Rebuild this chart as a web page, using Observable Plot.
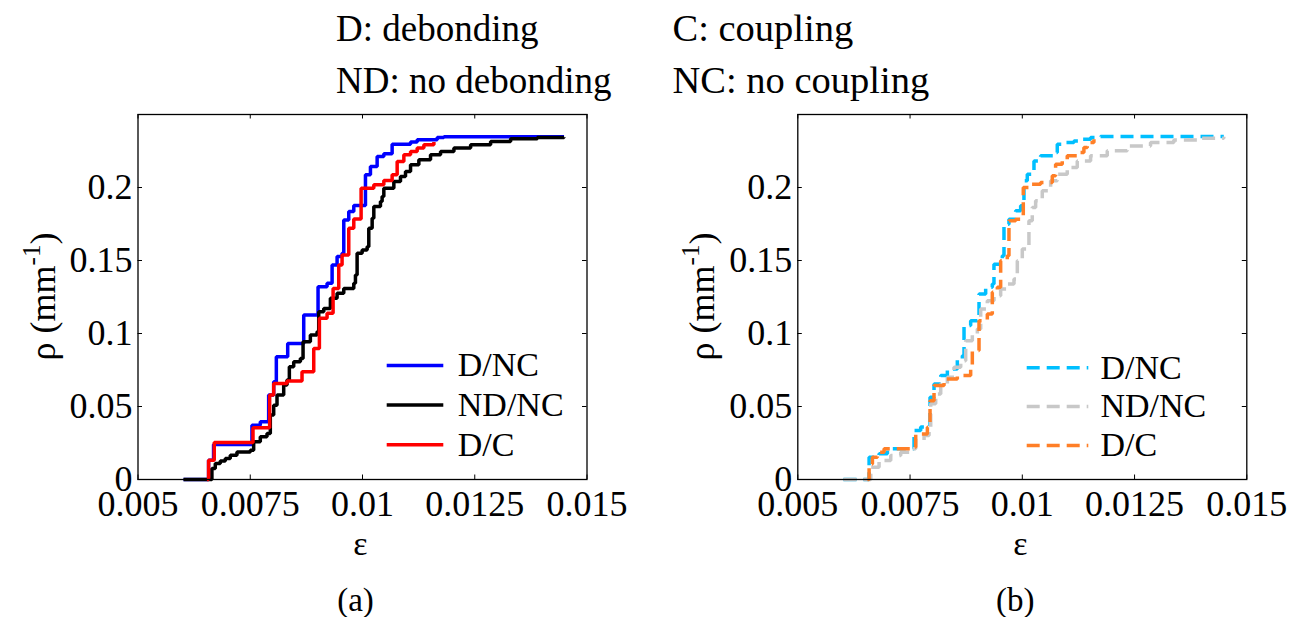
<!DOCTYPE html>
<html><head><meta charset="utf-8">
<script src="https://cdn.jsdelivr.net/npm/d3@7"></script>
<script src="https://cdn.jsdelivr.net/npm/@observablehq/plot@0.6"></script>
<style>
html,body{margin:0;padding:0;background:#fff;}
#wrap{position:relative;width:1292px;height:617px;display:flex;overflow:hidden;}
#wrap svg{display:block;flex:none;}
</style></head><body><div id="wrap"></div>
<script>
// ---------- data ----------
const seriesNames = ["D/NC", "ND/NC", "D/C"];
const panelLabels = ["(a)", "(b)"];
const xTicks = [0.005, 0.0075, 0.01, 0.0125, 0.015];
const xTickLabels = ["0.005", "0.0075", "0.01", "0.0125", "0.015"];
const yTicks = [0, 0.05, 0.1, 0.15, 0.2];
const yTickLabels = ["0", "0.05", "0.1", "0.15", "0.2"];
const headerLeft = ["D: debonding", "ND: no debonding"];
const headerRight = ["C: coupling", "NC: no coupling"];
const xLabel = "ε";

// panel (a)
const a_DNC_eps = [0.006014, 0.006572, 0.006683, 0.007538, 0.007724, 0.007910, 0.008022, 0.008081, 0.008334, 0.008691, 0.009010, 0.009211, 0.009323, 0.009434, 0.009545, 0.009583, 0.009694, 0.009806, 0.010066, 0.010177, 0.010326, 0.010475, 0.010660, 0.011070, 0.011218, 0.011664, 0.011813, 0.014489];
const a_DNC_rho = [0, 0.0132, 0.0240, 0.0372, 0.0395, 0.0578, 0.0669, 0.0841, 0.0932, 0.1127, 0.1321, 0.1344, 0.1470, 0.1527, 0.1549, 0.1778, 0.1835, 0.1876, 0.2087, 0.2144, 0.2212, 0.2231, 0.2297, 0.2311, 0.2327, 0.2343, 0.2348, 0.2348];

const a_NDNC_eps = [0.006014, 0.006646, 0.006721, 0.006832, 0.006944, 0.007055, 0.007204, 0.007501, 0.007576, 0.007724, 0.007873, 0.007947, 0.008022, 0.008096, 0.008245, 0.008319, 0.008371, 0.008468, 0.008616, 0.008676, 0.008839, 0.008988, 0.009025, 0.009137, 0.009285, 0.009434, 0.009583, 0.009806, 0.009843, 0.009880, 0.009992, 0.010103, 0.010140, 0.010215, 0.010252, 0.010400, 0.010437, 0.010475, 0.010698, 0.010846, 0.010958, 0.011070, 0.011255, 0.011515, 0.011738, 0.012036, 0.012408, 0.012853, 0.013299, 0.013894, 0.014489];
const a_NDNC_rho = [0, 0.0075, 0.0109, 0.0126, 0.0144, 0.0166, 0.0189, 0.0201, 0.0258, 0.0292, 0.0315, 0.0441, 0.0509, 0.0578, 0.0647, 0.0681, 0.0772, 0.0806, 0.0829, 0.0944, 0.0989, 0.1012, 0.1149, 0.1172, 0.1241, 0.1275, 0.1309, 0.1344, 0.1401, 0.1549, 0.1572, 0.1595, 0.1721, 0.1790, 0.1870, 0.1904, 0.1938, 0.1995, 0.2041, 0.2075, 0.2110, 0.2155, 0.2190, 0.2224, 0.2247, 0.2270, 0.2292, 0.2315, 0.2334, 0.2343, 0.2345];

const a_DC_eps = [0.006535, 0.006572, 0.006698, 0.007561, 0.007932, 0.008022, 0.008319, 0.008653, 0.008914, 0.009040, 0.009211, 0.009345, 0.009471, 0.009545, 0.009694, 0.009806, 0.009969, 0.010252, 0.010475, 0.010660, 0.010772, 0.010921, 0.011070, 0.011218, 0.011367, 0.011590];
const a_DC_rho = [0, 0.0132, 0.0253, 0.0354, 0.0578, 0.0658, 0.0674, 0.0738, 0.0898, 0.1104, 0.1138, 0.1309, 0.1470, 0.1538, 0.1721, 0.1785, 0.1995, 0.2019, 0.2048, 0.2087, 0.2178, 0.2224, 0.2247, 0.2270, 0.2292, 0.2311];

// panel (b)
const b_DNC_eps = [0.006017, 0.006588, 0.006810, 0.006996, 0.007589, 0.007737, 0.007945, 0.008034, 0.008183, 0.008331, 0.008553, 0.008665, 0.008702, 0.008850, 0.008999, 0.009036, 0.009184, 0.009332, 0.009369, 0.009555, 0.009592, 0.009703, 0.009852, 0.009963, 0.010037, 0.010111, 0.010260, 0.010408, 0.010742, 0.010779, 0.010927, 0.011150, 0.011298, 0.011521, 0.011743, 0.014488];
const b_DNC_rho = [0, 0.0153, 0.0176, 0.0210, 0.0335, 0.0360, 0.0563, 0.0654, 0.0712, 0.0757, 0.0826, 0.0848, 0.1054, 0.1088, 0.1111, 0.1270, 0.1316, 0.1339, 0.1475, 0.1532, 0.1749, 0.1783, 0.1840, 0.1875, 0.2046, 0.2091, 0.2182, 0.2217, 0.2239, 0.2296, 0.2308, 0.2319, 0.2331, 0.2342, 0.2349, 0.2349];

const b_NDNC_eps = [0.006017, 0.006625, 0.006810, 0.007070, 0.007292, 0.007515, 0.007626, 0.007812, 0.007923, 0.007960, 0.008071, 0.008183, 0.008331, 0.008479, 0.008628, 0.008739, 0.008887, 0.008999, 0.009073, 0.009221, 0.009369, 0.009518, 0.009666, 0.009815, 0.009889, 0.010000, 0.010111, 0.010148, 0.010222, 0.010297, 0.010445, 0.010631, 0.010779, 0.011001, 0.011224, 0.011521, 0.011892, 0.012337, 0.012856, 0.013375, 0.013969, 0.014488];
const b_NDNC_rho = [0, 0.0084, 0.0130, 0.0164, 0.0187, 0.0210, 0.0267, 0.0301, 0.0335, 0.0518, 0.0586, 0.0654, 0.0700, 0.0769, 0.0814, 0.0951, 0.0997, 0.1031, 0.1168, 0.1225, 0.1259, 0.1304, 0.1339, 0.1373, 0.1498, 0.1578, 0.1601, 0.1772, 0.1863, 0.1909, 0.1977, 0.2046, 0.2091, 0.2137, 0.2182, 0.2217, 0.2251, 0.2285, 0.2308, 0.2326, 0.2338, 0.2347];

const b_DC_eps = [0.006551, 0.006588, 0.006662, 0.006773, 0.006922, 0.007515, 0.007626, 0.007886, 0.007945, 0.008034, 0.008257, 0.008553, 0.008850, 0.008887, 0.009036, 0.009221, 0.009332, 0.009444, 0.009518, 0.009666, 0.009703, 0.009852, 0.009963, 0.010022, 0.010185, 0.010408, 0.010668, 0.010742, 0.010890, 0.011001, 0.011224, 0.011372, 0.011447, 0.011595];
const b_DC_rho = [0, 0.0107, 0.0153, 0.0187, 0.0210, 0.0221, 0.0312, 0.0358, 0.0540, 0.0643, 0.0689, 0.0712, 0.0757, 0.0883, 0.1088, 0.1133, 0.1282, 0.1316, 0.1498, 0.1532, 0.1772, 0.1783, 0.1806, 0.2000, 0.2023, 0.2034, 0.2080, 0.2160, 0.2182, 0.2217, 0.2239, 0.2274, 0.2308, 0.2331];

const colorsA = ["#0000ff", "#000000", "#ff0000"];
const colorsB = ["#00bfff", "#c8c8c8", "#ff7f27"];

// ---------- helpers ----------
function rows(pairs) {
  const out = [];
  pairs.forEach(([name, eps, rho]) => eps.forEach((e, i) => out.push({series: name, eps: e, rho: rho[i]})));
  return out;
}
const FONT = "Liberation Serif, Times New Roman, serif";
const W = 646, H = 617;
const xDomain = [0.005, 0.015], yDomain = [0, 0.25];

function panel(cfg) {
  const m = cfg.margin;
  const iw = W - m.left - m.right, ih = H - m.top - m.bottom;
  const xInv = px => xDomain[0] + (px - m.left) / iw * (xDomain[1] - xDomain[0]);
  const yInv = py => yDomain[0] + (H - m.bottom - py) / ih * (yDomain[1] - yDomain[0]);
  const TK = 4.5;
  const tx = TK / iw * (xDomain[1] - xDomain[0]);
  const ty = TK / ih * (yDomain[1] - yDomain[0]);
  const lg = cfg.legend;
  const svg = Plot.plot({
    width: W, height: H,
    marginLeft: m.left, marginRight: m.right, marginTop: m.top, marginBottom: m.bottom,
    x: {domain: xDomain},
    y: {domain: yDomain},
    color: {domain: seriesNames, range: cfg.colors},
    style: {fontFamily: FONT, background: "white", overflow: "visible"},
    marks: [
      Plot.ruleX(xTicks, {x: d => d, y1: yDomain[0], y2: yDomain[0] + ty, stroke: "black", strokeWidth: 1}),
      Plot.ruleX(xTicks, {x: d => d, y1: yDomain[1] - ty, y2: yDomain[1], stroke: "black", strokeWidth: 1}),
      Plot.ruleY(yTicks, {y: d => d, x1: xDomain[0], x2: xDomain[0] + tx, stroke: "black", strokeWidth: 1}),
      Plot.ruleY(yTicks, {y: d => d, x1: xDomain[1] - tx, x2: xDomain[1], stroke: "black", strokeWidth: 1}),
      Plot.axisX({ticks: xTicks, tickFormat: d => xTickLabels[xTicks.indexOf(d)], tickSize: 0, tickPadding: 11, fontSize: 36, fontFamily: FONT, label: null, fill: "black"}),
      Plot.axisY({anchor: "left", ticks: yTicks, tickFormat: d => yTickLabels[yTicks.indexOf(d)], tickSize: 0, tickPadding: 5.5, fontSize: 36, fontFamily: FONT, label: null, fill: "black"}),
      Plot.line(cfg.data, {x: "eps", y: "rho", z: "series", stroke: "series", curve: "step-after", strokeWidth: 3.5, strokeDasharray: cfg.dash, strokeLinejoin: "miter", strokeLinecap: "butt"}),
      Plot.frame({stroke: "black", strokeWidth: 1.3}),
      // legend
      Plot.ruleY(seriesNames, {y: (d, i) => yInv(lg.y0 + i * lg.gap), x1: xInv(lg.x0), x2: xInv(lg.x1), stroke: d => d, strokeWidth: 3.5, strokeDasharray: cfg.dash}),
      Plot.text(seriesNames, {x: xInv(lg.tx), y: (d, i) => yInv(lg.y0 + i * lg.gap), text: d => d, textAnchor: "start", lineAnchor: "middle", fontSize: 34, fontFamily: FONT, fill: "black"}),
      // headers
      Plot.text([cfg.header[0]], {frameAnchor: "top-left", dx: cfg.headerDx, dy: -85.5, text: d => d, textAnchor: "start", lineAnchor: "middle", fontSize: cfg.headerSize, fontFamily: FONT, fill: "black"}),
      Plot.text([cfg.header[1]], {frameAnchor: "top-left", dx: cfg.headerDx, dy: -33.5, text: d => d, textAnchor: "start", lineAnchor: "middle", fontSize: cfg.headerSize, fontFamily: FONT, fill: "black"}),
      // x label & panel label
      Plot.text([xLabel], {frameAnchor: "bottom", dx: -2, dy: 65, text: d => d, lineAnchor: "middle", fontSize: 34, fontFamily: FONT, fill: "black"}),
      Plot.text([cfg.label], {frameAnchor: "bottom", dx: -7, dy: 121, text: d => d, lineAnchor: "middle", fontSize: 33, fontFamily: FONT, fill: "black"})
    ]
  });
  // y label with superscript
  const t = d3.select(svg).append("text")
    .attr("transform", `translate(${m.left - 83},${(m.top + H - m.bottom) / 2}) rotate(-90)`)
    .attr("text-anchor", "middle")
    .attr("fill", "black")
    .style("font-family", FONT).style("font-size", "36px");
  t.append("tspan").text("ρ (mm");
  t.append("tspan").attr("dy", -15).style("font-size", "25px").text("-1");
  t.append("tspan").attr("dy", 15).text(")");
  return svg;
}

const wrap = document.getElementById("wrap");
wrap.appendChild(panel({
  margin: {left: 137.5, right: 59.5, top: 114, bottom: 138},
  data: rows([["D/NC", a_DNC_eps, a_DNC_rho], ["ND/NC", a_NDNC_eps, a_NDNC_rho], ["D/C", a_DC_eps, a_DC_rho]]),
  colors: colorsA, dash: null, label: panelLabels[0],
  header: headerLeft, headerDx: 198, headerSize: 37,
  legend: {x0: 386.7, x1: 443.3, tx: 457.3, y0: 365, gap: 39.6}
}));
wrap.appendChild(panel({
  margin: {left: 151.3, right: 45.7, top: 114, bottom: 138},
  data: rows([["D/NC", b_DNC_eps, b_DNC_rho], ["ND/NC", b_NDNC_eps, b_NDNC_rho], ["D/C", b_DC_eps, b_DC_rho]]),
  colors: colorsB, dash: "13,7", label: panelLabels[1],
  header: headerRight, headerDx: -125.3, headerSize: 38.5,
  legend: {x0: 380.7, x1: 442.3, tx: 454, y0: 367.3, gap: 38.8}
}));
</script></body></html>
